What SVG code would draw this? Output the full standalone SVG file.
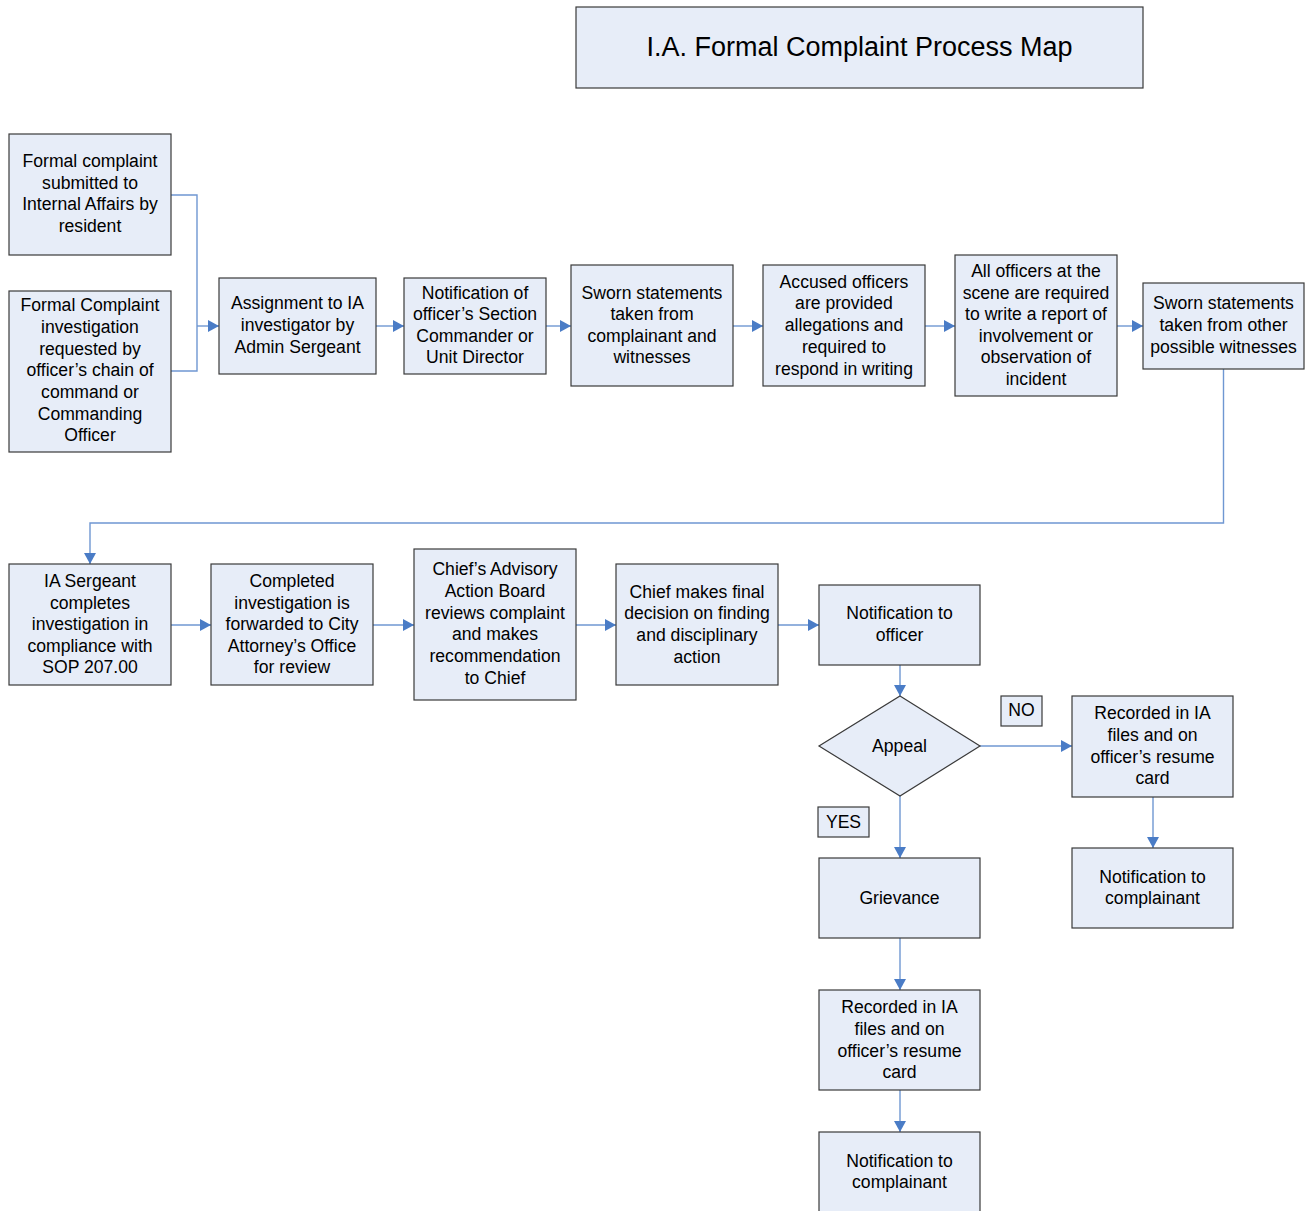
<svg xmlns="http://www.w3.org/2000/svg" width="1310" height="1211" viewBox="0 0 1310 1211">
<style>
.box{fill:#E7EDF8;stroke:#3A3A3A;stroke-width:1.2}
.t{font-family:"Liberation Sans",Arial,sans-serif;font-size:17.6px;fill:#000;text-anchor:middle}
.title{font-family:"Liberation Sans",Arial,sans-serif;font-size:27px;fill:#000;text-anchor:middle}
.c{fill:none;stroke:#6F97D2;stroke-width:1.4}
</style>
<defs>
<marker id="ah" markerUnits="userSpaceOnUse" markerWidth="12" markerHeight="12" refX="11" refY="6" orient="auto">
<path d="M0,0 L11,6 L0,12 z" fill="#4A7CC6"/>
</marker>
</defs>
<rect width="1310" height="1211" fill="#fff"/>
<g id="connectors">
<path class="c" d="M171,195 H197 V326"/>
<path class="c" d="M171,371 H197 V326"/>
<path class="c" d="M197,326 H219" marker-end="url(#ah)"/>
<path class="c" d="M376,326 H404" marker-end="url(#ah)"/>
<path class="c" d="M546,326 H571" marker-end="url(#ah)"/>
<path class="c" d="M733,326 H763" marker-end="url(#ah)"/>
<path class="c" d="M925,326 H955" marker-end="url(#ah)"/>
<path class="c" d="M1117,326 H1143" marker-end="url(#ah)"/>
<path class="c" d="M1223.5,369 V523 H90 V564" marker-end="url(#ah)"/>
<path class="c" d="M171,625 H211" marker-end="url(#ah)"/>
<path class="c" d="M373,625 H414" marker-end="url(#ah)"/>
<path class="c" d="M576,625 H616" marker-end="url(#ah)"/>
<path class="c" d="M778,625 H819" marker-end="url(#ah)"/>
<path class="c" d="M900,665 V696" marker-end="url(#ah)"/>
<path class="c" d="M980,746 H1072" marker-end="url(#ah)"/>
<path class="c" d="M900,796 V858" marker-end="url(#ah)"/>
<path class="c" d="M1153,797 V848" marker-end="url(#ah)"/>
<path class="c" d="M900,938 V990" marker-end="url(#ah)"/>
<path class="c" d="M900,1090 V1132" marker-end="url(#ah)"/>
</g>
<g id="title">
<rect class="box" x="576" y="7" width="567" height="81"/>
<text class="title" x="859.5" y="56">I.A. Formal Complaint Process Map</text>
</g>
<g id="n1">
<rect class="box" x="9" y="134" width="162" height="121"/>
<text class="t" x="90"><tspan x="90" y="167">Formal complaint</tspan><tspan x="90" y="188.5">submitted to</tspan><tspan x="90" y="210">Internal Affairs by</tspan><tspan x="90" y="231.5">resident</tspan></text>
</g>
<g id="n2">
<rect class="box" x="9" y="291" width="162" height="161"/>
<text class="t" x="90"><tspan x="90" y="311">Formal Complaint</tspan><tspan x="90" y="333">investigation</tspan><tspan x="90" y="355">requested by</tspan><tspan x="90" y="376">officer’s chain of</tspan><tspan x="90" y="398">command or</tspan><tspan x="90" y="420">Commanding</tspan><tspan x="90" y="441">Officer</tspan></text>
</g>
<g id="n3">
<rect class="box" x="219" y="278" width="157" height="96"/>
<text class="t"><tspan x="297.5" y="309">Assignment to IA</tspan><tspan x="297.5" y="331">investigator by</tspan><tspan x="297.5" y="353">Admin Sergeant</tspan></text>
</g>
<g id="n4">
<rect class="box" x="404" y="278" width="142" height="96"/>
<text class="t"><tspan x="475" y="299">Notification of</tspan><tspan x="475" y="320">officer’s Section</tspan><tspan x="475" y="342">Commander or</tspan><tspan x="475" y="363">Unit Director</tspan></text>
</g>
<g id="n5">
<rect class="box" x="571" y="265" width="162" height="121"/>
<text class="t"><tspan x="652" y="299">Sworn statements</tspan><tspan x="652" y="320">taken from</tspan><tspan x="652" y="342">complainant and</tspan><tspan x="652" y="363">witnesses</tspan></text>
</g>
<g id="n6">
<rect class="box" x="763" y="265" width="162" height="121"/>
<text class="t"><tspan x="844" y="288">Accused officers</tspan><tspan x="844" y="309">are provided</tspan><tspan x="844" y="331">allegations and</tspan><tspan x="844" y="353">required to</tspan><tspan x="844" y="375">respond in writing</tspan></text>
</g>
<g id="n7">
<rect class="box" x="955" y="255" width="162" height="141"/>
<text class="t"><tspan x="1036" y="277">All officers at the</tspan><tspan x="1036" y="299">scene are required</tspan><tspan x="1036" y="320">to write a report of</tspan><tspan x="1036" y="342">involvement or</tspan><tspan x="1036" y="363">observation of</tspan><tspan x="1036" y="385">incident</tspan></text>
</g>
<g id="n8">
<rect class="box" x="1143" y="283" width="161" height="86"/>
<text class="t"><tspan x="1223.5" y="309">Sworn statements</tspan><tspan x="1223.5" y="331">taken from other</tspan><tspan x="1223.5" y="353">possible witnesses</tspan></text>
</g>
<g id="n9">
<rect class="box" x="9" y="564" width="162" height="121"/>
<text class="t"><tspan x="90" y="587">IA Sergeant</tspan><tspan x="90" y="609">completes</tspan><tspan x="90" y="630">investigation in</tspan><tspan x="90" y="652">compliance with</tspan><tspan x="90" y="673">SOP 207.00</tspan></text>
</g>
<g id="n10">
<rect class="box" x="211" y="564" width="162" height="121"/>
<text class="t"><tspan x="292" y="587">Completed</tspan><tspan x="292" y="609">investigation is</tspan><tspan x="292" y="630">forwarded to City</tspan><tspan x="292" y="652">Attorney’s Office</tspan><tspan x="292" y="673">for review</tspan></text>
</g>
<g id="n11">
<rect class="box" x="414" y="549" width="162" height="151"/>
<text class="t"><tspan x="495" y="575">Chief’s Advisory</tspan><tspan x="495" y="597">Action Board</tspan><tspan x="495" y="619">reviews complaint</tspan><tspan x="495" y="640">and makes</tspan><tspan x="495" y="662">recommendation</tspan><tspan x="495" y="684">to Chief</tspan></text>
</g>
<g id="n12">
<rect class="box" x="616" y="564" width="162" height="121"/>
<text class="t"><tspan x="697" y="598">Chief makes final</tspan><tspan x="697" y="619">decision on finding</tspan><tspan x="697" y="641">and disciplinary</tspan><tspan x="697" y="663">action</tspan></text>
</g>
<g id="n13">
<rect class="box" x="819" y="585" width="161" height="80"/>
<text class="t"><tspan x="899.5" y="619">Notification to</tspan><tspan x="899.5" y="641">officer</tspan></text>
</g>
<g id="appeal">
<polygon class="box" points="900,696 980,746 900,796 819,746"/>
<text class="t" x="899.5" y="752">Appeal</text>
</g>
<g id="no">
<rect class="box" x="1001" y="696" width="41" height="30"/>
<text class="t" x="1021.5" y="716">NO</text>
</g>
<g id="yes">
<rect class="box" x="818" y="807" width="51" height="30"/>
<text class="t" x="843.5" y="828">YES</text>
</g>
<g id="r1">
<rect class="box" x="1072" y="696" width="161" height="101"/>
<text class="t"><tspan x="1152.5" y="719">Recorded in IA</tspan><tspan x="1152.5" y="741">files and on</tspan><tspan x="1152.5" y="763">officer’s resume</tspan><tspan x="1152.5" y="784">card</tspan></text>
</g>
<g id="c1">
<rect class="box" x="1072" y="848" width="161" height="80"/>
<text class="t"><tspan x="1152.5" y="883">Notification to</tspan><tspan x="1152.5" y="904">complainant</tspan></text>
</g>
<g id="grievance">
<rect class="box" x="819" y="858" width="161" height="80"/>
<text class="t" x="899.5" y="904">Grievance</text>
</g>
<g id="r2">
<rect class="box" x="819" y="990" width="161" height="100"/>
<text class="t"><tspan x="899.5" y="1013">Recorded in IA</tspan><tspan x="899.5" y="1035">files and on</tspan><tspan x="899.5" y="1057">officer’s resume</tspan><tspan x="899.5" y="1078">card</tspan></text>
</g>
<g id="c2">
<rect class="box" x="819" y="1132" width="161" height="90"/>
<text class="t"><tspan x="899.5" y="1167">Notification to</tspan><tspan x="899.5" y="1188">complainant</tspan></text>
</g>
</svg>
